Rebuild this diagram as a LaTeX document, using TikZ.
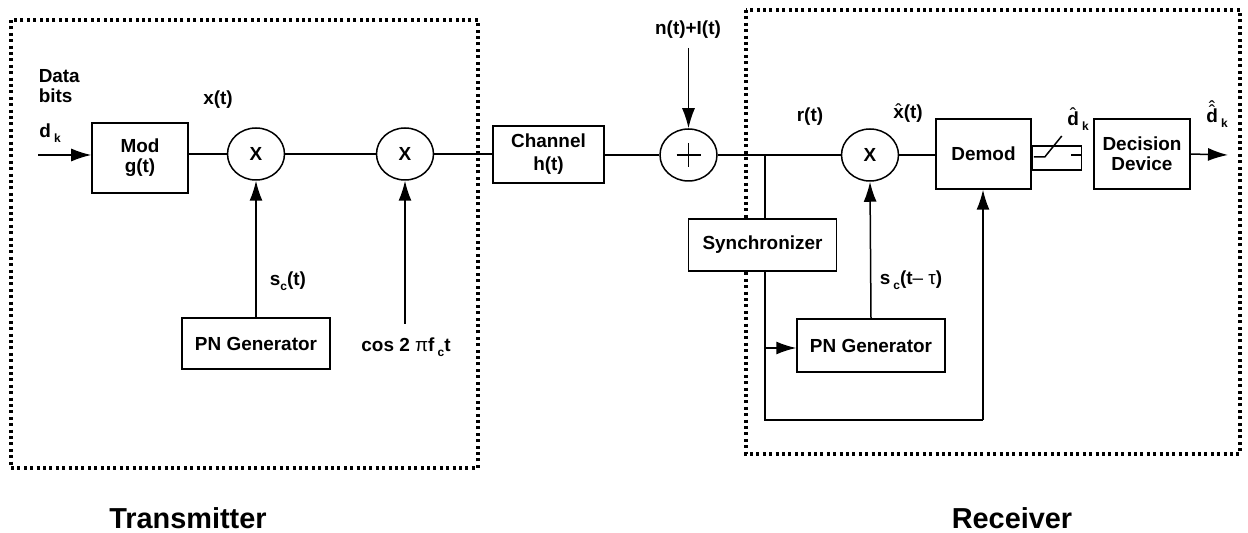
\documentclass[tikz,border=0pt]{standalone}
\usepackage{fontspec}
\setmainfont{Liberation Sans}
\usetikzlibrary{shapes.geometric,arrows.meta,calc}
\newcommand\subk[1]{\raisebox{-0.45ex}{\fontsize{12}{12}\selectfont #1}}
\newcommand\hatraise[2]{\ooalign{#2\cr\hidewidth\raisebox{#1}{\mdseries\char"02C6}\hidewidth\cr}}
\newcommand\dhat[1]{\ooalign{#1\cr\hidewidth\raisebox{0.2em}{\mdseries\char"02C6}\hidewidth\cr\hidewidth\raisebox{0.45em}{\mdseries\char"02C6}\hidewidth\cr}}
\begin{document}
\begin{tikzpicture}[x=1bp,y=-1bp,line width=1.5bp,
  lbl/.style={font=\fontsize{19}{20}\selectfont\bfseries,inner sep=0pt},
  blk/.style={draw,fill=white,rectangle,lbl,align=center},
  mult/.style={draw,fill=white,ellipse,lbl,minimum width=57bp,minimum height=52bp},
  arr/.style={-{Latex[length=20bp,width=13bp]}},
  dotbox/.style={line width=3.2bp,dash pattern=on 3bp off 3.4bp},
  big/.style={font=\fontsize{29}{30}\selectfont\bfseries,inner sep=0pt}]
\useasboundingbox (0,0) rectangle (1248,533);

% dotted enclosures
\draw[dotbox] (11,20) rectangle (478,468);
\draw[dotbox] (746,10) rectangle (1240,454);

% blocks
\node[blk,minimum width=96bp,minimum height=70bp] (mod) at (140,158) {Mod\\g(t)};
\node[mult] (m1) at (256,154) {X};
\node[mult] (m2) at (405,154) {X};
\node[blk,minimum width=111bp,minimum height=57bp] (ch) at (548.5,154.5) {Channel\\[3bp]h(t)};
\node[mult] (add) at (688.5,155) {};
\draw[line width=1.1bp] ($(add.center)+(-12,0)$) -- ($(add.center)+(12,0)$)
  ($(add.center)+(0,-12)$) -- ($(add.center)+(0,12)$);
\node[blk,minimum width=148bp,minimum height=51bp] (pn1) at (256,343.5) {PN Generator};
\node[blk,minimum width=148bp,minimum height=52bp] (sync) at (762.5,245) {Synchronizer};
\node[mult] (m3) at (870,155) {X};
\node[blk,minimum width=148bp,minimum height=53bp] (pn2) at (871,345.5) {PN Generator};
\node[blk,minimum width=95bp,minimum height=70bp] (demod) at (983.5,154) {Demod};
\node[draw,rectangle,minimum width=49bp,minimum height=24bp,inner sep=0pt] (sw) at (1057,158) {};
\node[blk,minimum width=96bp,minimum height=70bp] (dec) at (1142,154) {Decision\\Device};

% labels
\node[lbl,anchor=west,align=left] (databits) at (38,86) {Data\\bits};
\node[lbl] (dk) at (50,133) {d\,\subk{k}};
\node[lbl] (xt) at (218,100) {x(t)};
\node[lbl] (sct) at (288,281) {s\subk{c}(t)};
\node[lbl] (cosl) at (406,347) {cos 2 {\mdseries π}f\,\subk{c}t};
\node[lbl] (nl) at (688,30) {n(t)+I(t)};
\node[lbl] (rt) at (810,117) {r(t)};
\node[lbl] (xh) at (908,114) {\hatraise{0.05em}{x}(t)};
\node[lbl] (sctau) at (911,280) {s\,\subk{c}(t{\mdseries –} {\mdseries τ})};
\node[lbl] (dh) at (1078,121) {\hatraise{0.2em}{d}\,\subk{k}};
\node[lbl] (ddh) at (1217,118) {\dhat{d}\,\subk{k}};
\node[big] (tx) at (188,518) {Transmitter};
\node[big] (rx) at (1012,518) {Receiver};

% coordinates
\coordinate (in) at (38,155);
\coordinate (nin) at (688.5,48);
\coordinate (br) at (765,155);
\coordinate (bot) at (765,420);
\coordinate (dmx) at (983,420);
\coordinate (pnin) at (765,348);
\coordinate (cosb) at (405,324);
\coordinate (out) at (1228,155);

% connectors
\draw[arr] (in) -- (in -| mod.west);
\draw (mod.east |- m1.west) -- (m1.west);
\draw (m1.east) -- (m2.west);
\draw (m2.east) -- (m2.east -| ch.west);
\draw (ch.east |- add.west) -- (add.west);
\draw[arr] (nin) -- (add.north);
\draw (add.east) -- (m3.west);
\draw (br) -- (br |- sync.north);
\draw (br |- sync.south) -- (bot) -- (dmx);
\draw[arr] (dmx) -- (dmx |- demod.south);
\draw[arr] (pnin) -- (pnin -| pn2.west);
\draw[arr] (pn2.north) -- (m3.south);
\draw[arr] (pn1.north) -- (m1.south);
\draw[arr] (cosb) -- (m2.south);
\draw (m3.east) -- (m3.east -| demod.west);
% switch
\draw ($(sw.west)+(2,-1)$) -- ($(sw.west)+(13,-1)$) -- ($(sw.west)+(30,-22)$);
\draw ($(sw.east)+(-11,-3)$) -- ($(sw.east)+(0,-3)$) -- ($(sw.east)+(0,-3)$ -| dec.west);
\draw[arr] (dec.east) -- (out);
\end{tikzpicture}
\end{document}
